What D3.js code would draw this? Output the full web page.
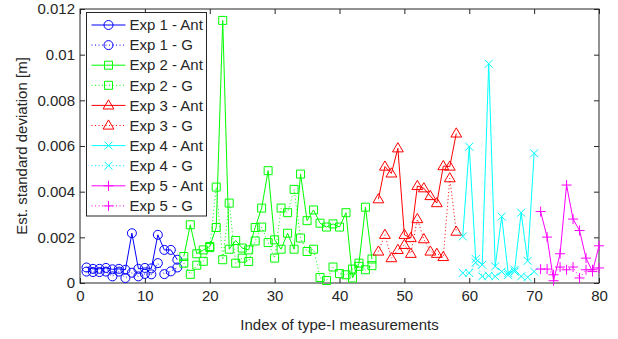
<!DOCTYPE html>
<html>
<head>
<meta charset="utf-8">
<script src="https://cdn.jsdelivr.net/npm/d3@7"></script>
<style>
  body { margin: 0; background: #fff; }
  svg text { font-family: "Liberation Sans", Arial, sans-serif; fill: #262626; }
</style>
</head>
<body>
<div id="chart"></div>
<script>
// measurement indices and std estimates per experiment
const exp1X = [1, 2, 3, 4, 5, 6, 7, 8, 9, 10, 11, 12, 13, 14, 15];
const exp1Ant = [0.00068, 0.00062, 0.00062, 0.00066, 0.0006, 0.00062, 0.00058, 0.00218, 0.00062, 0.00066, 0.00064, 0.00211, 0.00145, 0.00145, 0.00102];
const exp1G = [0.0005, 0.00048, 0.00048, 0.0005, 0.00029, 0.0005, 0.00022, 0.00045, 0.00029, 0.0004, 0.00038, 0.00087, 0.00039, 0.00051, 0.00068];

const exp2X = [16, 17, 18, 19, 20, 21, 22, 23, 24, 25, 26, 27, 28, 29, 30, 31, 32, 33, 34, 35, 36, 37, 38, 39, 40, 41, 42, 43, 44, 45];
const exp2Ant = [0.00116, 0.00255, 0.00128, 0.00145, 0.0016, 0.00243, 0.0115, 0.00148, 0.00186, 0.00153, 0.00145, 0.00243, 0.00328, 0.00492, 0.00189,
  0.00148, 0.00218, 0.00148, 0.00477, 0.00273, 0.0032, 0.00262, 0.00245, 0.00259, 0.00245, 0.00308, 0.00022, 0.00087, 0.00332, 0.00105];
const exp2G = [0.00087, 0.00038, 0.00078, 0.00095, 0.00155, 0.0042, 0.00102, 0.0035, 0.00087, 0.00109, 0.00094, 0.00184, 0.00245, 0.00177, 0.00109,
  0.00328, 0.00308, 0.0041, 0.00197, 0.00138, 0.00148, 0.00024, 0.00011, 0.0007, 0.00041, 0.00036, 0.00061, 0.00073, 0.00058, 0.00076];

const exp3X = [46, 47, 48, 49, 50, 51, 52, 53, 54, 55, 56, 57, 58];
const exp3Ant = [0.00367, 0.0051, 0.0048, 0.0059, 0.00211, 0.00197, 0.00425, 0.00415, 0.00381, 0.0035, 0.00512, 0.0051, 0.00655];
const exp3G = [0.00138, 0.00211, 0.00109, 0.00145, 0.00167, 0.00128, 0.0028, 0.00192, 0.00138, 0.00128, 0.00114, 0.00459, 0.00225];

const exp4X = [59, 60, 61, 62, 63, 64, 65, 66, 67, 68, 69, 70];
const exp4Ant = [0.00204, 0.00597, 0.00105, 0.0008, 0.0096, 0.00073, 0.00291, 0.00044, 0.00058, 0.00308, 0.00097, 0.00568];
const exp4G = [0.00044, 0.00044, 0.0009, 0.00029, 0.00032, 0.00029, 0.0005, 0.00035, 0.0005, 0.00029, 0.00025, 0.0005];

const exp5X = [71, 72, 73, 74, 75, 76, 77, 78, 79, 80];
const exp5Ant = [0.00313, 0.00201, 0.0001, 0.00128, 0.00429, 0.0028, 0.0023, 0.00109, 0.0005, 0.00163];
const exp5G = [0.00061, 0.00061, 0.00036, 0.0007, 0.00058, 0.0007, 0.00022, 0.00058, 0.00058, 0.00066];

const xTicks = [0, 10, 20, 30, 40, 50, 60, 70, 80];
const yTicks = [0, 0.002, 0.004, 0.006, 0.008, 0.01, 0.012];
const yTickLabels = ["0", "0.002", "0.004", "0.006", "0.008", "0.01", "0.012"];

const series = [
  { name: "Exp 1 - Ant", x: exp1X, y: exp1Ant, color: "#0000ff", marker: "circle", dotted: false },
  { name: "Exp 1 - G", x: exp1X, y: exp1G, color: "#0000ff", marker: "circle", dotted: true },
  { name: "Exp 2 - Ant", x: exp2X, y: exp2Ant, color: "#00ff00", marker: "square", dotted: false },
  { name: "Exp 2 - G", x: exp2X, y: exp2G, color: "#00ff00", marker: "square", dotted: true },
  { name: "Exp 3 - Ant", x: exp3X, y: exp3Ant, color: "#ff0000", marker: "triangle", dotted: false },
  { name: "Exp 3 - G", x: exp3X, y: exp3G, color: "#ff0000", marker: "triangle", dotted: true },
  { name: "Exp 4 - Ant", x: exp4X, y: exp4Ant, color: "#00ffff", marker: "x", dotted: false },
  { name: "Exp 4 - G", x: exp4X, y: exp4G, color: "#00ffff", marker: "x", dotted: true },
  { name: "Exp 5 - Ant", x: exp5X, y: exp5Ant, color: "#ff00ff", marker: "plus", dotted: false },
  { name: "Exp 5 - G", x: exp5X, y: exp5G, color: "#ff00ff", marker: "plus", dotted: true }
];

const W = 618, H = 339;
const margin = { top: 9, right: 19, bottom: 56, left: 80 };
const width = W - margin.left - margin.right;
const height = H - margin.top - margin.bottom;

const svg = d3.select("#chart").append("svg")
  .attr("width", W)
  .attr("height", H);

const xScale = d3.scaleLinear().domain([0, 80]).range([margin.left, margin.left + width]);
const yScale = d3.scaleLinear().domain([0, 0.012]).range([margin.top + height, margin.top]);

// marker shapes
function markerPath(type) {
  switch (type) {
    case "circle": return "M4.5,0A4.5,4.5 0 1,1 -4.5,0A4.5,4.5 0 1,1 4.5,0Z";
    case "square": return "M-4,-4H4V4H-4Z";
    case "triangle": return "M0,-5.6L5.4,3.6H-5.4Z";
    case "x": return "M-4,-4L4,4M-4,4L4,-4";
    case "plus": return "M-5,0H5M0,-5V5";
  }
}

// axes (MATLAB style, inward ticks on all four sides)
const fontSize = "15px";
const xAxis = svg.append("g")
  .attr("transform", `translate(0, ${margin.top + height})`)
  .call(d3.axisBottom(xScale).tickValues(xTicks).tickSizeInner(-5).tickSizeOuter(0).tickPadding(7).tickFormat(d3.format("d")));
const yAxis = svg.append("g")
  .attr("transform", `translate(${margin.left}, 0)`)
  .call(d3.axisLeft(yScale).tickValues(yTicks).tickSizeInner(-5).tickSizeOuter(0).tickPadding(5).tickFormat((d, i) => yTickLabels[i]));
const xTop = svg.append("g")
  .attr("transform", `translate(0, ${margin.top})`)
  .call(d3.axisTop(xScale).tickValues(xTicks).tickSizeInner(-5).tickSizeOuter(0).tickFormat(""));
const yRight = svg.append("g")
  .attr("transform", `translate(${margin.left + width}, 0)`)
  .call(d3.axisRight(yScale).tickValues(yTicks).tickSizeInner(-5).tickSizeOuter(0).tickFormat(""));

[xAxis, yAxis, xTop, yRight].forEach(g => {
  g.select(".domain").remove();
  g.selectAll("line").attr("stroke", "#262626");
  g.selectAll("text").attr("font-size", fontSize).attr("font-family", null).style("fill", "#262626");
});

svg.append("rect")
  .attr("x", margin.left)
  .attr("y", margin.top)
  .attr("width", width)
  .attr("height", height)
  .attr("fill", "none")
  .attr("stroke", "#262626")
  .attr("stroke-width", 1);

// series
const line = d3.line().x(d => xScale(d[0])).y(d => yScale(d[1]));
series.forEach(s => {
  const pts = s.x.map((x, i) => [x, s.y[i]]);
  const g = svg.append("g").attr("class", "series");
  g.append("path")
    .datum(pts)
    .attr("d", line)
    .attr("fill", "none")
    .attr("stroke", s.color)
    .attr("stroke-width", 1)
    .attr("stroke-dasharray", s.dotted ? "1,2.5" : null);
  g.selectAll("path.marker")
    .data(pts)
    .enter().append("path")
    .attr("class", "marker")
    .attr("d", markerPath(s.marker))
    .attr("transform", d => `translate(${xScale(d[0])}, ${yScale(d[1])})`)
    .attr("fill", "none")
    .attr("stroke", s.color)
    .attr("stroke-width", 1);
});

// axis titles
svg.append("text")
  .attr("x", margin.left + width / 2)
  .attr("y", 330)
  .attr("text-anchor", "middle")
  .attr("font-size", fontSize)
  .text("Index of type-I measurements");
svg.append("text")
  .attr("transform", `translate(27, ${margin.top + height / 2}) rotate(-90)`)
  .attr("text-anchor", "middle")
  .attr("font-size", fontSize)
  .text("Est. standard deviation [m]");

// legend
const legend = svg.append("g").attr("transform", "translate(86.5, 12.5)");
legend.append("rect")
  .attr("width", 120)
  .attr("height", 203.5)
  .attr("fill", "#fff")
  .attr("stroke", "#262626")
  .attr("stroke-width", 1);
series.forEach((s, i) => {
  const row = legend.append("g").attr("transform", `translate(0, ${12.5 + i * 20.1})`);
  row.append("line")
    .attr("x1", 5).attr("x2", 39)
    .attr("stroke", s.color)
    .attr("stroke-width", 1)
    .attr("stroke-dasharray", s.dotted ? "1,2.5" : null);
  row.append("path")
    .attr("d", markerPath(s.marker))
    .attr("transform", "translate(22, 0)")
    .attr("fill", "none")
    .attr("stroke", s.color);
  row.append("text")
    .attr("x", 43)
    .attr("dy", "0.35em")
    .attr("font-size", fontSize)
    .text(s.name);
});
</script>
</body>
</html>
